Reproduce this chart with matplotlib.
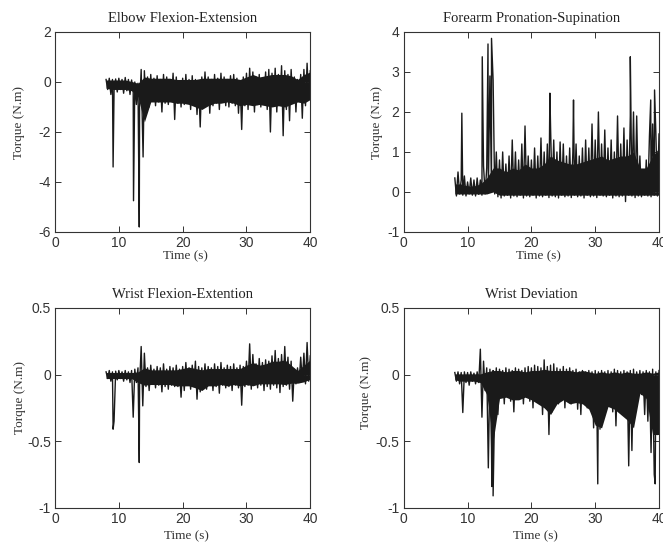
import numpy as np
import matplotlib
matplotlib.use("Agg")
import matplotlib.pyplot as plt

# Torque recordings (N.m).
# "hi" = upper excursions every 0.5 s from 8 s to 40 s,
# "lo" = lower excursions halfway between them, plus isolated spikes.
# "core" = edges of the dense dark band, every 1 s from 8 s to 40 s.
elbow_hi = [0.10, 0.15, 0.10, 0.12, 0.15, 0.10, 0.18, 0.10, 0.08, 0.00,
            -0.05, 0.50, 0.45, 0.20, 0.30, 0.15, 0.25, 0.10, 0.30, 0.20,
            0.10, 0.35, 0.20, 0.05, 0.15, 0.30, 0.10, 0.25, 0.10, 0.00,
            0.20, 0.40, 0.20, 0.10, 0.30, 0.15, 0.35, 0.20, 0.10, 0.25,
            0.30, 0.15, 0.05, 0.20, 0.35, 0.55, 0.40, 0.20, 0.30, 0.15,
            0.40, 0.50, 0.35, 0.55, 0.30, 0.65, 0.45, 0.30, 0.50, 0.20,
            0.10, 0.30, 0.50, 0.75, 0.45]
elbow_lo = [-0.30, -0.50, -0.35, -0.40, -0.30, -0.45, -0.35, -0.50, -0.40, -0.90,
            -1.00, -2.30, -0.90, -1.00, -0.75, -0.95, -0.80, -1.20, -0.85, -0.90,
            -0.75, -1.50, -0.85, -1.00, -0.90, -0.75, -1.10, -0.90, -1.30, -1.80,
            -1.00, -0.85, -1.25, -0.95, -0.85, -1.10, -0.75, -0.95, -1.00, -0.85,
            -0.95, -1.25, -1.90, -0.95, -1.10, -0.85, -1.20, -0.90, -1.00, -0.75,
            -1.10, -2.00, -0.95, -1.20, -0.90, -2.15, -1.10, -1.55, -0.85, -1.20,
            -0.75, -1.45, -0.95, -0.70]
elbow_spike_t = [9.1, 12.3, 13.2, 13.8]
elbow_spike_v = [-3.4, -4.75, -5.8, -3.0]
elbow_core_top = [0.08, 0.08, 0.08, 0.08, 0.02, -0.05, 0.20, 0.15, 0.15, 0.15,
                  0.15, 0.10, 0.10, 0.10, 0.10, 0.15, 0.15, 0.15, 0.15, 0.15,
                  0.15, 0.10, 0.20, 0.30, 0.20, 0.25, 0.30, 0.30, 0.30, 0.25,
                  0.10, 0.30, 0.40]
elbow_core_bot = [-0.25, -0.30, -0.30, -0.30, -0.35, -0.60, -1.60, -0.80, -0.80, -0.80,
                  -0.80, -0.85, -0.85, -0.90, -1.00, -1.10, -0.95, -0.85, -0.85, -0.80,
                  -0.85, -0.95, -0.90, -0.95, -0.90, -0.95, -1.00, -0.95, -1.00, -0.90,
                  -0.80, -0.85, -0.70]

forearm_hi = [0.35, 0.50, 0.30, 0.40, 0.25, 0.35, 0.30, 0.35, 0.30, 0.65,
              0.60, 2.90, 2.80, 1.00, 0.80, 1.00, 0.70, 0.90, 1.30, 1.00,
              0.80, 1.20, 1.65, 0.90, 0.80, 1.10, 0.90, 1.35, 1.00, 1.20,
              1.65, 1.30, 1.00, 1.25, 1.20, 0.90, 1.10, 1.00, 1.20, 0.90,
              1.10, 1.30, 1.10, 1.70, 1.30, 2.00, 1.20, 1.55, 1.10, 1.30,
              1.00, 1.90, 1.20, 1.60, 1.30, 1.90, 2.00, 1.90, 0.90, 0.40,
              0.80, 1.40, 1.70, 1.50, 1.45]
forearm_lo = [-0.10, -0.05, -0.08, -0.10, -0.05, -0.08, -0.10, -0.06, -0.08, -0.05,
              -0.02, 0.00, -0.05, -0.12, -0.15, -0.10, -0.08, -0.15, -0.10, -0.12,
              -0.08, -0.15, -0.10, -0.12, -0.08, -0.15, -0.10, -0.12, -0.08, -0.14,
              -0.10, -0.12, -0.15, -0.08, -0.12, -0.10, -0.14, -0.08, -0.12, -0.10,
              -0.15, -0.08, -0.12, -0.10, -0.14, -0.08, -0.10, -0.12, -0.08, -0.15,
              -0.10, -0.12, -0.10, -0.24, -0.08, -0.10, -0.14, -0.10, -0.12, -0.08,
              -0.10, -0.12, -0.08, -0.10]
forearm_spike_t = [9.1, 12.3, 13.2, 13.75, 22.9, 26.6, 35.5, 38.7, 39.3]
forearm_spike_v = [1.97, 3.38, 3.70, 3.84, 2.47, 2.30, 3.38, 2.30, 2.55]
forearm_core_top = [0.20, 0.20, 0.15, 0.15, 0.20, 0.35, 0.60, 0.60, 0.50, 0.60,
                    0.55, 0.70, 0.60, 0.60, 0.70, 0.90, 0.80, 0.75, 0.70, 0.70,
                    0.75, 0.80, 0.85, 0.90, 0.80, 0.85, 0.90, 0.90, 1.00, 0.60,
                    0.60, 0.90, 1.10]
forearm_core_bot = [-0.05, -0.05, -0.05, -0.05, -0.05, -0.05, 0.00, -0.08, -0.08, -0.08,
                    -0.08, -0.08, -0.08, -0.08, -0.08, -0.08, -0.08, -0.08, -0.08, -0.08,
                    -0.08, -0.08, -0.08, -0.08, -0.08, -0.08, -0.08, -0.08, -0.08, -0.08,
                    -0.08, -0.08, -0.08]

wflex_hi = [0.02, 0.03, 0.02, 0.025, 0.03, 0.02, 0.03, 0.02, 0.03, 0.04,
            0.05, 0.21, 0.16, 0.05, 0.07, 0.04, 0.06, 0.05, 0.08, 0.04,
            0.06, 0.05, 0.07, 0.04, 0.06, 0.09, 0.05, 0.07, 0.10, 0.06,
            0.05, 0.08, 0.06, 0.05, 0.08, 0.06, 0.09, 0.05, 0.07, 0.06,
            0.08, 0.05, 0.07, 0.06, 0.10, 0.23, 0.15, 0.08, 0.12, 0.09,
            0.11, 0.10, 0.14, 0.18, 0.12, 0.15, 0.21, 0.13, 0.10, 0.04,
            0.05, 0.13, 0.16, 0.24, 0.14]
wflex_lo = [-0.03, -0.05, -0.35, -0.04, -0.03, -0.05, -0.04, -0.06, -0.32, -0.06,
            -0.08, -0.235, -0.09, -0.12, -0.07, -0.10, -0.08, -0.13, -0.09, -0.11,
            -0.08, -0.09, -0.09, -0.17, -0.12, -0.08, -0.11, -0.09, -0.185, -0.13,
            -0.09, -0.11, -0.08, -0.12, -0.09, -0.14, -0.08, -0.10, -0.09, -0.12,
            -0.08, -0.10, -0.23, -0.09, -0.08, -0.11, -0.07, -0.10, -0.08, -0.12,
            -0.09, -0.11, -0.08, -0.10, -0.135, -0.09, -0.08, -0.11, -0.20, -0.07,
            -0.06, -0.05, -0.07, -0.05]
wflex_spike_t = [9.1, 13.2]
wflex_spike_v = [-0.41, -0.66]
wflex_core_top = [0.015, 0.015, 0.015, 0.015, 0.015, 0.02, 0.05, 0.035, 0.035, 0.035,
                  0.035, 0.035, 0.045, 0.055, 0.045, 0.035, 0.045, 0.045, 0.045, 0.045,
                  0.045, 0.045, 0.07, 0.09, 0.07, 0.08, 0.10, 0.10, 0.11, 0.07,
                  0.03, 0.07, 0.11]
wflex_core_bot = [-0.03, -0.03, -0.03, -0.03, -0.03, -0.06, -0.08, -0.075, -0.075, -0.075,
                  -0.075, -0.085, -0.085, -0.085, -0.10, -0.12, -0.085, -0.085, -0.075, -0.085,
                  -0.075, -0.085, -0.075, -0.085, -0.07, -0.07, -0.07, -0.07, -0.075, -0.065,
                  -0.065, -0.055, -0.035]

wdev_hi = [0.015, 0.02, 0.015, 0.02, 0.015, 0.02, 0.01, 0.02, 0.19, 0.10,
           0.05, 0.04, 0.03, 0.05, 0.04, 0.03, 0.05, 0.04, 0.03, 0.05,
           0.04, 0.03, 0.05, 0.06, 0.05, 0.07, 0.06, 0.05, 0.11, 0.06,
           0.07, 0.08, 0.05, 0.04, 0.06, 0.04, 0.05, 0.03, 0.04, 0.02,
           0.03, 0.02, 0.03, 0.02, 0.03, 0.02, 0.03, 0.02, 0.03, 0.02,
           0.04, 0.03, 0.02, 0.03, 0.02, 0.03, 0.04, 0.02, 0.03, 0.02,
           0.03, 0.02, 0.04, 0.02, 0.03]
wdev_lo = [-0.05, -0.07, -0.285, -0.06, -0.08, -0.05, -0.07, -0.06, -0.32, -0.12,
           -0.70, -0.55, -0.20, -0.30, -0.15, -0.22, -0.13, -0.20, -0.28, -0.18,
           -0.15, -0.22, -0.17, -0.20, -0.25, -0.18, -0.22, -0.30, -0.25, -0.45,
           -0.28, -0.20, -0.22, -0.17, -0.25, -0.18, -0.22, -0.20, -0.26, -0.30,
           -0.18, -0.25, -0.22, -0.40, -0.20, -0.41, -0.30, -0.25, -0.20, -0.28,
           -0.385, -0.22, -0.30, -0.25, -0.685, -0.57, -0.15, -0.12, -0.15, -0.30,
           -0.35, -0.585, -0.75, -0.45]
wdev_spike_t = [13.8, 14.0, 30.4, 39.4]
wdev_spike_v = [-0.84, -0.91, -0.82, -0.82]
wdev_core_top = [0.005, 0.005, 0.005, 0.005, 0.005, 0.02, 0.03, 0.03, 0.02, 0.03,
                 0.03, 0.02, 0.03, 0.03, 0.04, 0.03, 0.03, 0.03, 0.03, 0.02,
                 0.03, 0.02, 0.01, 0.02, 0.01, 0.02, 0.01, 0.02, 0.01, 0.01,
                 0.02, 0.01, 0.02]
wdev_core_bot = [-0.04, -0.05, -0.05, -0.05, -0.06, -0.15, -0.50, -0.18, -0.17, -0.19,
                 -0.19, -0.17, -0.19, -0.22, -0.25, -0.30, -0.22, -0.19, -0.22, -0.21,
                 -0.22, -0.26, -0.38, -0.40, -0.24, -0.26, -0.30, -0.34, -0.40, -0.14,
                 -0.18, -0.45, -0.45]

titles = ["Elbow Flexion-Extension", "Forearm Pronation-Supination",
          "Wrist Flexion-Extention", "Wrist Deviation"]
ylims = [(-6, 2), (-1, 4), (-1, 0.5), (-1, 0.5)]
yticks = [[-6, -4, -2, 0, 2], [-1, 0, 1, 2, 3, 4],
          [-1, -0.5, 0, 0.5], [-1, -0.5, 0, 0.5]]
ytick_labels = [["-6", "-4", "-2", "0", "2"], ["-1", "0", "1", "2", "3", "4"],
                ["-1", "-0.5", "0", "0.5"], ["-1", "-0.5", "0", "0.5"]]
xticks = [0, 10, 20, 30, 40]


def build(hi, lo, st, sv):
    t_hi = np.linspace(8, 40, len(hi))
    t_lo = (t_hi[:-1] + t_hi[1:]) / 2
    t = np.concatenate([t_hi, t_lo, st])
    v = np.concatenate([hi, lo, sv])
    order = np.argsort(t, kind="stable")
    return t[order], v[order]


series = [build(elbow_hi, elbow_lo, elbow_spike_t, elbow_spike_v),
          build(forearm_hi, forearm_lo, forearm_spike_t, forearm_spike_v),
          build(wflex_hi, wflex_lo, wflex_spike_t, wflex_spike_v),
          build(wdev_hi, wdev_lo, wdev_spike_t, wdev_spike_v)]
cores = [(elbow_core_top, elbow_core_bot), (forearm_core_top, forearm_core_bot),
         (wflex_core_top, wflex_core_bot), (wdev_core_top, wdev_core_bot)]

fig = plt.figure(figsize=(6.63, 5.42), dpi=100)

# axes boxes in figure fractions
boxes = [[0.083, 0.572, 0.385, 0.369], [0.609, 0.572, 0.385, 0.369],
         [0.083, 0.063, 0.385, 0.369], [0.609, 0.063, 0.385, 0.369]]
ylab_pos = [(-0.141, 0.545), (-0.103, 0.545), (-0.137, 0.55), (-0.149, 0.576)]
xlab_pos = [(0.51, -0.12), (0.527, -0.123), (0.513, -0.14), (0.514, -0.14)]

serif = "Liberation Serif"
sans = "Liberation Sans"
ink = "#1a1a1a"

for i in range(4):
    ax = fig.add_axes(boxes[i])
    top, bot = cores[i]
    tc = np.linspace(8, 40, len(top))
    ax.fill_between(tc, bot, top, color=ink, lw=0)
    t, v = series[i]
    ax.plot(t, v, color=ink, lw=1.0)
    ax.set_xlim(0, 40)
    ax.set_ylim(*ylims[i])
    ax.set_xticks(xticks)
    ax.set_xticklabels([str(x) for x in xticks], family=sans, fontsize=10, color="#333333")
    ax.set_yticks(yticks[i])
    ax.set_yticklabels(ytick_labels[i], family=sans, fontsize=10, color="#333333")
    ax.tick_params(direction="in", top=True, right=True, length=4, width=0.7,
                   color="#333333", pad=3)
    for s in ax.spines.values():
        s.set_linewidth(0.8)
        s.set_color("#333333")
    ax.set_title(titles[i], family=serif, fontsize=10.5, color="#222222", pad=7)
    ax.set_ylabel("Torque (N.m)", family=serif, fontsize=9.5, color="#333333",
                  va="center", ha="center")
    ax.yaxis.set_label_coords(*ylab_pos[i])
    ax.set_xlabel("Time (s)", family=serif, fontsize=9.5, color="#333333",
                  va="center", ha="center")
    ax.xaxis.set_label_coords(*xlab_pos[i])

fig.savefig("out.png", dpi=100)
